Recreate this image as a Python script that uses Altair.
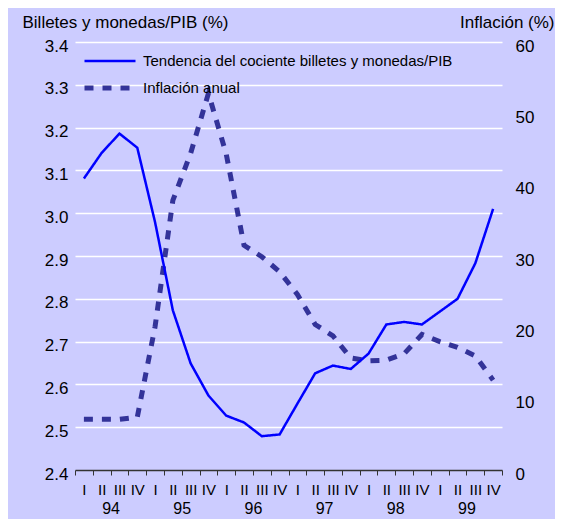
import altair as alt
import pandas as pd

# ---- data ----
years = ["94", "95", "96", "97", "98", "99"]
quarter_names = ["I", "II", "III", "IV"]
series_names = ["Tendencia del cociente billetes y monedas/PIB", "Inflación anual"]

ratio = [3.081, 3.141, 3.186, 3.153,
         2.979, 2.773, 2.649, 2.574,
         2.527, 2.511, 2.479, 2.483,
         2.555, 2.626, 2.644, 2.636,
         2.672, 2.740, 2.746, 2.740,
         2.770, 2.800, 2.883, 3.010]

inflation = [7.1, 7.1, 7.1, 7.4,
             20.1, 37.8, 44.4, 52.8,
             44.3, 31.5, 29.9, 27.8,
             24.6, 20.4, 18.8, 15.7,
             15.3, 15.4, 16.3, 19.0,
             18.0, 17.2, 16.0, 12.6]

left_ticks = [2.4, 2.5, 2.6, 2.7, 2.8, 2.9, 3.0, 3.1, 3.2, 3.3, 3.4]
right_ticks = [0, 10, 20, 30, 40, 50, 60]

FONT = "Liberation Sans"
n = len(ratio)
nq = len(quarter_names)

df_ratio = pd.DataFrame({"pos": [i + 0.5 for i in range(n)], "value": ratio,
                         "series": series_names[0]})
df_infl = pd.DataFrame({"pos": [i + 0.5 for i in range(n)], "value": inflation,
                        "series": series_names[1]})

xscale = alt.Scale(domain=[0, n], nice=False, zero=False)

q_arr = "[" + ",".join(f"'{q}'" for q in quarter_names) + "]"
y_arr = "[" + ",".join(f"'{y}'" for y in years) + "]"

quarter_axis = alt.Axis(
    orient="bottom", values=list(range(n + 1)),
    labelExpr=f"datum.value < {n} ? {q_arr}[datum.value % {nq}] : ''",
    labelOffset=8.9, tickSize=5, labelPadding=7, labelFontSize=15, labelFont=FONT,
    labelColor="black", domainColor="#333333", tickColor="#333333", domainWidth=1.5,
    tickWidth=1, grid=False, title=None, labelOverlap=False, labelFlush=False,
    labelBound=False)

year_axis = alt.Axis(
    orient="bottom", values=[nq * i + nq / 2 for i in range(len(years))],
    labelExpr=f"{y_arr}[floor(datum.value / {nq})]",
    ticks=False, tickSize=0, domain=False, grid=False, labelPadding=30,
    labelFontSize=16, labelFont=FONT, labelColor="black", title=None,
    labelOverlap=False, labelFlush=False, labelBound=False)

left_axis = alt.Axis(
    orient="left", values=left_ticks, format=".1f", ticks=False, tickSize=0,
    domain=False, labelPadding=7, labelOffset=4, labelFontSize=17, labelFont=FONT,
    labelColor="black", grid=True, gridColor="white", gridWidth=1.5,
    gridOpacity={"condition": {"test": "datum.value > 2.45", "value": 1}, "value": 0},
    title="Billetes y monedas/PIB (%)", titleAngle=0, titleX=-53, titleY=-15,
    titleAlign="left", titleBaseline="alphabetic", titleFontSize=17,
    titleFontWeight="normal", titleFont=FONT, titleColor="black")

right_axis = alt.Axis(
    orient="right", values=right_ticks, ticks=False, tickSize=0, domain=False,
    labelPadding=13, labelOffset=4, labelFontSize=17, labelFont=FONT,
    labelColor="black", grid=False,
    title="Inflación (%)", titleAngle=0, titleX=52, titleY=-15,
    titleAlign="right", titleBaseline="alphabetic", titleFontSize=17,
    titleFontWeight="normal", titleFont=FONT, titleColor="black")

legend = alt.Legend(
    title=None, orient="none", legendX=7, legendY=11, symbolType="stroke",
    symbolSize=2601, clipHeight=16, rowPadding=11, labelOffset=5,
    labelFontSize=15, labelFont=FONT, labelColor="black", padding=0, labelLimit=0)

color_scale = alt.Scale(domain=series_names, range=["#0000FF", "#333399"])
dash_scale = alt.Scale(domain=series_names, range=[[1, 0], [9, 9]])
width_scale = alt.Scale(domain=series_names, range=[2.5, 5])

enc_common = dict(
    color=alt.Color("series:N", scale=color_scale, legend=legend),
    strokeDash=alt.StrokeDash("series:N", scale=dash_scale, legend=legend),
    strokeWidth=alt.StrokeWidth("series:N", scale=width_scale, legend=legend),
)

infl_line = alt.Chart(df_infl).mark_line(strokeCap="butt").encode(
    x=alt.X("pos:Q", scale=xscale, axis=year_axis),
    y=alt.Y("value:Q", scale=alt.Scale(domain=[0, 60], nice=False, zero=False),
            axis=right_axis),
    **enc_common)

ratio_line = alt.Chart(df_ratio).mark_line().encode(
    x=alt.X("pos:Q", scale=xscale, axis=quarter_axis),
    y=alt.Y("value:Q", scale=alt.Scale(domain=[2.4, 3.4], nice=False, zero=False),
            axis=left_axis),
    **enc_common)

chart = alt.layer(infl_line, ratio_line).resolve_scale(
    y="independent", x="shared"
).resolve_axis(
    x="independent", y="independent"
).properties(
    width=427, height=428,
    autosize=alt.AutoSizeParams(type="none"),
    padding={"left": 67, "top": 34, "right": 53, "bottom": 49},
    background="#CCCCFF",
).configure_view(stroke=None)

chart.save("out.html", embed_options={"renderer": "svg", "actions": False})
